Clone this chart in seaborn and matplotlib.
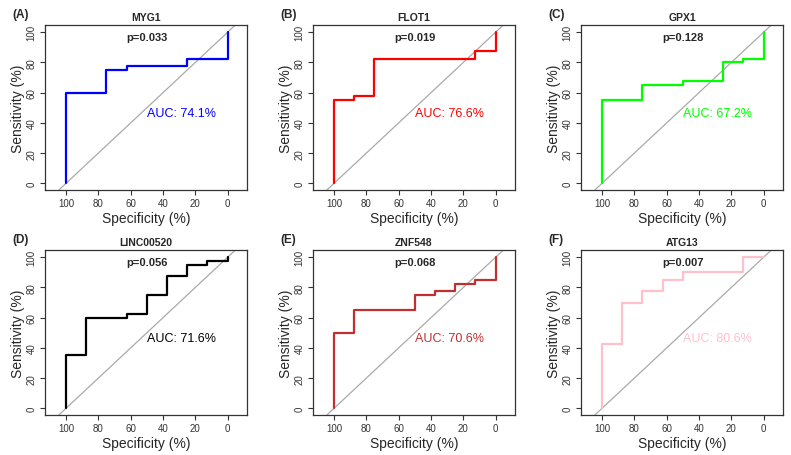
import pandas as pd
import numpy as np
import matplotlib.pyplot as plt
import seaborn as sns

# ROC step vertices (specificity %, sensitivity %)
genes = ['MYG1', 'FLOT1', 'GPX1', 'LINC00520', 'ZNF548', 'ATG13']
panels = ['(A)', '(B)', '(C)', '(D)', '(E)', '(F)']
pvals = ['p=0.033', 'p=0.019', 'p=0.128', 'p=0.056', 'p=0.068', 'p=0.007']
aucs = ['AUC: 74.1%', 'AUC: 76.6%', 'AUC: 67.2%', 'AUC: 71.6%', 'AUC: 70.6%', 'AUC: 80.6%']
colors = ['#0000FF', '#FF0000', '#00FF00', '#000000', '#C03030', '#FFC0CB']

spec_myg1 = [100, 100, 75, 75, 62.5, 62.5, 25, 25, 0, 0]
sens_myg1 = [0, 60, 60, 75, 75, 77.5, 77.5, 82.5, 82.5, 100]

spec_flot1 = [100, 100, 87.5, 87.5, 75, 75, 12.5, 12.5, 0, 0]
sens_flot1 = [0, 55, 55, 57.5, 57.5, 82.5, 82.5, 87.5, 87.5, 100]

spec_gpx1 = [100, 100, 75, 75, 50, 50, 25, 25, 12.5, 12.5, 0, 0]
sens_gpx1 = [0, 55, 55, 65, 65, 67.5, 67.5, 80, 80, 82.5, 82.5, 100]

spec_linc = [100, 100, 87.5, 87.5, 62.5, 62.5, 50, 50, 37.5, 37.5, 25, 25, 12.5, 12.5, 0, 0]
sens_linc = [0, 35, 35, 60, 60, 62.5, 62.5, 75, 75, 87.5, 87.5, 95, 95, 97.5, 97.5, 100]

spec_znf548 = [100, 100, 87.5, 87.5, 50, 50, 37.5, 37.5, 25, 25, 12.5, 12.5, 0, 0]
sens_znf548 = [0, 50, 50, 65, 65, 75, 75, 77.5, 77.5, 82.5, 82.5, 85, 85, 100]

spec_atg13 = [100, 100, 87.5, 87.5, 75, 75, 62.5, 62.5, 50, 50, 12.5, 12.5, 0]
sens_atg13 = [0, 42.5, 42.5, 70, 70, 77.5, 77.5, 85, 85, 90, 90, 100, 100]

specs = [spec_myg1, spec_flot1, spec_gpx1, spec_linc, spec_znf548, spec_atg13]
senss = [sens_myg1, sens_flot1, sens_gpx1, sens_linc, sens_znf548, sens_atg13]

sns.set_style('white')
plt.rcParams['font.family'] = ['Liberation Sans', 'DejaVu Sans']

fig = plt.figure(figsize=(7.91, 4.56), dpi=100)

lefts = [45, 313, 581]
tops = [26, 251]
w, h = 202, 165

for i, gene in enumerate(genes):
    r, c = divmod(i, 3)
    ax = fig.add_axes([lefts[c] / 791, 1 - (tops[r] + h) / 456, w / 791, h / 456])
    df = pd.DataFrame({'spec': specs[i], 'sens': senss[i]})
    ax.axline((100, 0), (0, 100), color='#AAAAAA', lw=0.9, zorder=1)
    sns.lineplot(data=df, x='spec', y='sens', sort=False, estimator=None,
                 color=colors[i], lw=1.6, ax=ax, zorder=3)
    ax.set_xlim(113, -12)
    ax.set_ylim(-4.4, 104.8)
    ax.set_xticks([100, 80, 60, 40, 20, 0])
    ax.set_yticks([0, 20, 40, 60, 80, 100])
    ax.tick_params(axis='both', direction='out', length=3.5, width=0.8,
                   labelsize=7, colors='#333333', labelcolor='#333333', pad=2.5,
                   bottom=True, left=True)
    for lab in ax.get_yticklabels():
        lab.set_rotation(90)
        lab.set_va('center')
    for s in ax.spines.values():
        s.set_color('#333333')
        s.set_linewidth(0.9)
    ax.set_xlabel('Specificity (%)', fontsize=10, labelpad=2)
    ax.set_ylabel('Sensitivity (%)', fontsize=10, labelpad=1)
    ax.set_title(gene, fontsize=7.5, fontweight='bold', pad=3.5)
    ax.text(50, 97, pvals[i], ha='center', va='center', fontsize=8,
            fontweight='bold')
    ax.text(50, 46.5, aucs[i], ha='left', va='center', fontsize=9,
            color=colors[i])
    ax.text(-0.16, 1.065, panels[i], transform=ax.transAxes, fontsize=8.5,
            fontweight='bold', ha='left', va='center')

fig.savefig('out.png', dpi=100)
